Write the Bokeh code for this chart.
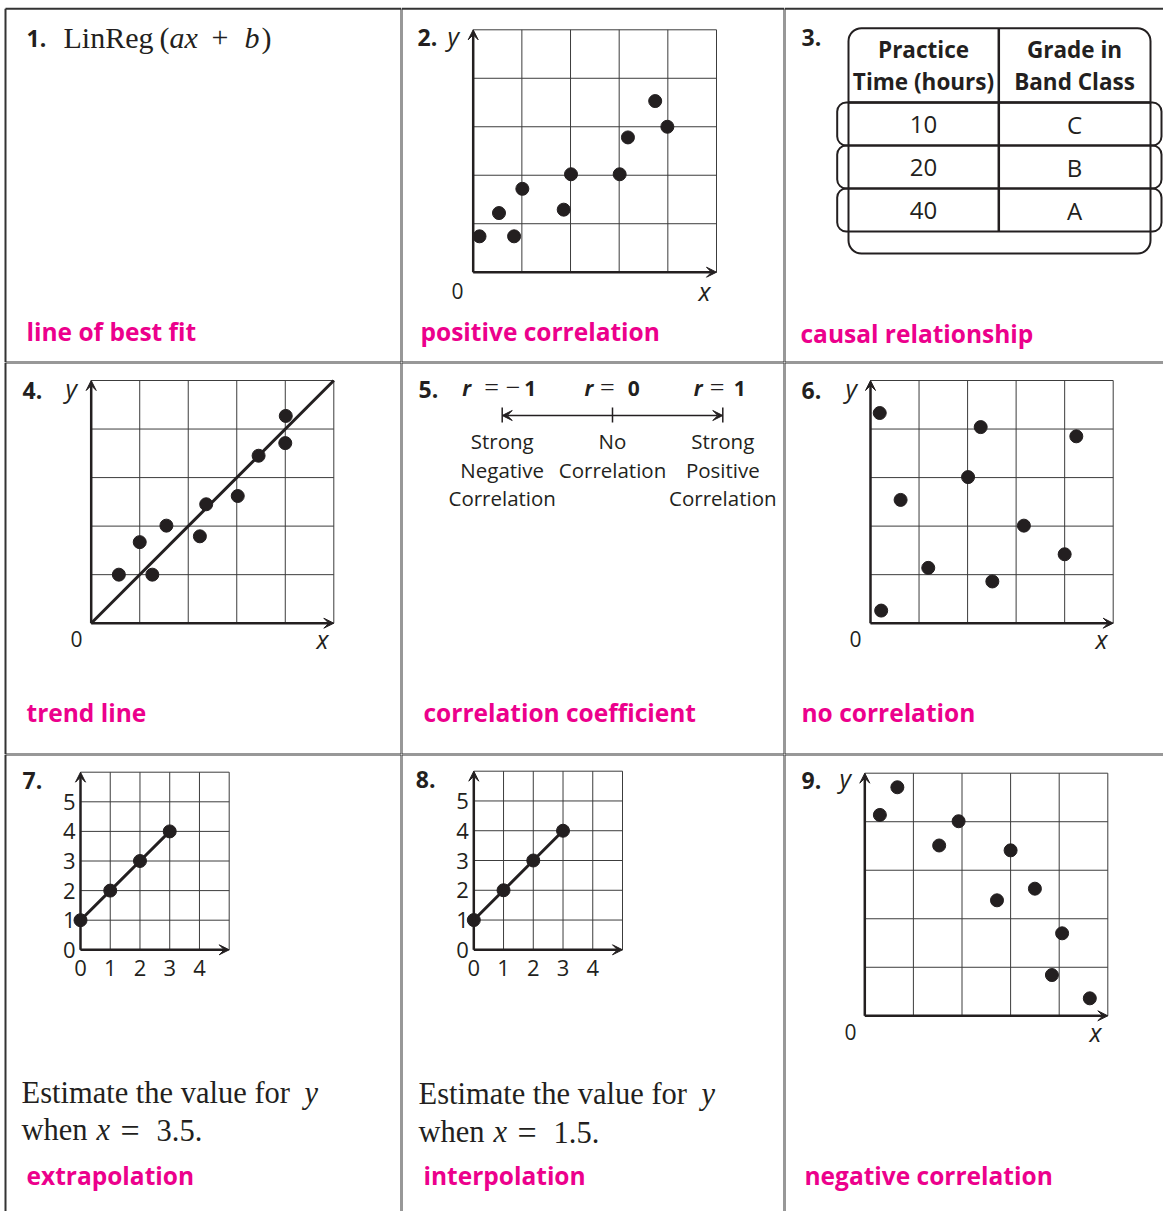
from bokeh.plotting import figure
from bokeh.models import Range1d, Label, Arrow, VeeHead
from bokeh.layouts import row, column
from bokeh.embed import file_html
from bokeh.resources import INLINE
from bokeh.core.properties import value

# ---------------- data ----------------
grid5 = [0, 1, 2, 3, 4, 5]
grid6 = [0, 1, 2, 3, 4, 5, 6]

pos_x = [0.13, 0.53, 0.84, 1.01, 1.86, 2.01, 3.01, 3.18, 3.74, 3.99]
pos_y = [0.74, 1.22, 0.74, 1.72, 1.29, 2.02, 2.02, 2.78, 3.53, 3.00]

trend_x = [0.57, 1.00, 1.26, 1.55, 2.24, 2.37, 3.02, 3.45, 4.01, 4.00]
trend_y = [1.00, 1.67, 1.00, 2.01, 1.79, 2.45, 2.62, 3.45, 4.27, 3.71]
trend_line_x = [0, 5]
trend_line_y = [0, 5]

none_x = [0.19, 0.62, 1.19, 2.27, 2.01, 2.51, 3.16, 4.24, 4.00, 0.22]
none_y = [4.33, 2.54, 1.14, 4.04, 3.01, 0.86, 2.01, 3.85, 1.42, 0.26]

neg_x = [0.67, 0.31, 1.53, 1.93, 3.00, 2.72, 3.50, 4.06, 3.85, 4.63]
neg_y = [4.71, 4.14, 3.51, 4.01, 3.41, 2.38, 2.62, 1.70, 0.84, 0.36]

line_x = [0, 1, 2, 3]
line_y = [1, 2, 3, 4]
tick_x_vals = [0, 1, 2, 3, 4]
tick_y_vals = [0, 1, 2, 3, 4, 5]

r_values = [-1, 0, 1]
r_numbers = ["1", "0", "1"]
r_negative = [True, False, False]
r_meaning = [["Strong", "Negative", "Correlation"],
             ["No", "Correlation"],
             ["Strong", "Positive", "Correlation"]]

table_header = [["Practice", "Time (hours)"], ["Grade in", "Band Class"]]
practice_hours = ["10", "20", "40"]
band_grade = ["C", "B", "A"]

terms = ["line of best fit", "positive correlation", "causal relationship",
         "trend line", "correlation coefficient", "no correlation",
         "extrapolation", "interpolation", "negative correlation"]

# ---------------- styles / layout ----------------
INK = "#231f20"
GRIDC = "#3c3c3c"
RULE = "#333333"
PINK = "#EC008C"
SANS = "Open Sans"
SERIF = "Liberation Serif"

COLS = [(0, 401), (401, 383), (784, 379)]
ROWS = [(0, 362), (362, 392), (754, 457)]
OUTER_LEFT, OUTER_TOP = 5, 8.3


def sh(size):
    # empirical correction of the rendered alphabetic baseline
    return 0.1 * size + 7


class Cell:
    def __init__(self, ci, ri, grid=None, xl=None, yl=None, xmap=None):
        self.ci, self.ri = ci, ri
        self.cl, self.cw = COLS[ci]
        self.ct, self.ch = ROWS[ri]
        self.sx, self.sy = 1.0, 1.0
        self.xs, self.ye = float(self.cl), float(-self.ct)
        if grid is not None:
            gl, gt, gr, gb = grid
            self.sx = (gr - gl) / (xl[1] - xl[0])
            self.sy = (gb - gt) / (yl[1] - yl[0])
            self.xs = xl[0] - (gl - self.cl) / self.sx
            self.ye = yl[1] + (gt - self.ct) / self.sy
        if xmap is not None:
            (p0, v0), (p1, v1) = xmap
            self.sx = (p1 - p0) / (v1 - v0)
            self.xs = v0 - (p0 - self.cl) / self.sx
        xr = (self.xs, self.xs + self.cw / self.sx)
        yr = (self.ye - self.ch / self.sy, self.ye)
        self.p = figure(width=self.cw, height=self.ch,
                        x_range=Range1d(*xr), y_range=Range1d(*yr),
                        output_backend="svg", toolbar_location=None,
                        x_axis_type=None, y_axis_type=None, min_border=0,
                        outline_line_color=None,
                        background_fill_color="white", border_fill_color="white")
        self.borders()

    def X(self, px):
        return self.xs + (px - self.cl) / self.sx

    def Y(self, py):
        return self.ye - (py - self.ct) / self.sy

    def borders(self):
        left = OUTER_LEFT if self.ci == 0 else self.cl
        top = OUTER_TOP if self.ri == 0 else self.ct
        right = self.cl + self.cw
        bottom = self.ct + self.ch
        segs = [(left, top, right + 2, top), (left, top, left, bottom + 2)]
        if self.ci < 2:
            segs.append((right, top, right, bottom + 2))
        if self.ri < 2:
            segs.append((left, bottom, right + 2, bottom))
        self.p.segment(x0=[self.X(s[0]) for s in segs], y0=[self.Y(s[1]) for s in segs],
                       x1=[self.X(s[2]) for s in segs], y1=[self.Y(s[3]) for s in segs],
                       line_color=RULE, line_width=2)

    def txt(self, s, px, py, size, font=SANS, style="normal", color=INK,
            align="left", baseline="alphabetic"):
        if baseline == "alphabetic":
            py = py - sh(size)
        self.p.add_layout(Label(x=px - self.cl, y=self.ct + self.ch - py,
                                x_units="screen", y_units="screen",
                                text=s, text_font=font, text_font_size=f"{size}px",
                                text_font_style=style, text_color=color,
                                text_align=align, text_baseline=baseline))


def mini_plot(p, xt, yt):
    x0, x1 = xt[0], xt[-1]
    y0, y1 = yt[0], yt[-1]
    p.segment(x0=xt, y0=[y0] * len(xt), x1=xt, y1=[y1] * len(xt),
              line_color=GRIDC, line_width=1)
    p.segment(x0=[x0] * len(yt), y0=yt, x1=[x1] * len(yt), y1=yt,
              line_color=GRIDC, line_width=1)
    for xe, ye in ((x1, y0), (x0, y1)):
        p.add_layout(Arrow(end=VeeHead(size=10, fill_color=INK, line_color=INK, line_width=1),
                           x_start=x0, y_start=y0, x_end=xe, y_end=ye,
                           line_width=2.5, line_color=INK))


NUM = 23
TERM = 24.5
SERIF_SIZE = 30.5

# ---------------- cell 1 ----------------
c1 = Cell(0, 0)
c1.txt("1.", 26, 47, NUM, style="bold")
for s, x, st in (("LinReg", 63, "normal"), ("(", 159, "normal"), ("ax", 169, "italic"),
                 ("+", 211, "normal"), ("b", 244, "italic"), (")", 261, "normal")):
    c1.txt(s, x, 47, 30, font=SERIF, style=st)
c1.txt(terms[0], 26, 340, TERM, style="bold", color=PINK)

# ---------------- cell 2 ----------------
c2 = Cell(1, 0, grid=(472.7, 29.3, 716, 271.7), xl=(0, 5), yl=(0, 5))
mini_plot(c2.p, grid5, grid5)
c2.p.scatter(pos_x, pos_y, size=13, color=INK)
c2.txt("2.", 417, 46, NUM, style="bold")
c2.txt("y", 447, 45, 25, style="italic")
c2.txt("0", 457, 300, 21, align="center")
c2.txt("x", 704, 300, 25, style="italic", align="center")
c2.txt(terms[1], 420, 340, TERM, style="bold", color=PINK)

# ---------------- cell 3 (table) ----------------
c3 = Cell(2, 0)
p3 = c3.p
c3.txt("3.", 801, 46, NUM, style="bold")
T_L, T_R, T_TOP, T_BOT = 848, 1150, 27.7, 253
P_L, P_R = 836.7, 1161
HEAD_B, ROW_H = 102, 43
COL_X = [923, 1074]
DIV_X = 998.3
n_rows = len(practice_hours)
row_tops = [HEAD_B + i * ROW_H for i in range(n_rows)]
p3.quad(left=[T_L], right=[T_R], top=[c3.Y(T_TOP)], bottom=[c3.Y(T_BOT)],
        fill_color=None, line_color=INK, line_width=2, border_radius=13)
p3.quad(left=[P_L] * n_rows, right=[P_R] * n_rows,
        top=[c3.Y(t) for t in row_tops], bottom=[c3.Y(t + ROW_H) for t in row_tops],
        fill_color=None, line_color=INK, line_width=2, border_radius=9)
p3.segment(x0=[T_L, DIV_X], y0=[c3.Y(HEAD_B), c3.Y(T_TOP)], x1=[T_R, DIV_X],
           y1=[c3.Y(HEAD_B), c3.Y(HEAD_B + n_rows * ROW_H)], line_color=INK, line_width=2.5)
for cx, lines in zip(COL_X, table_header):
    for j, s in enumerate(lines):
        c3.txt(s, cx, 58 + 32 * j, 22.5, style="bold", align="center")
for cx, col in zip(COL_X, (practice_hours, band_grade)):
    p3.text(x=[cx] * n_rows, y=[c3.Y(t + 31 - sh(24)) for t in row_tops], text=col,
            text_align="center", text_baseline="alphabetic",
            text_font=value(SANS), text_font_size="24px", text_color=INK)
c3.txt(terms[2], 800, 342, TERM, style="bold", color=PINK)

# ---------------- cell 4 ----------------
c4 = Cell(0, 1, grid=(90.7, 380, 333.3, 622.7), xl=(0, 5), yl=(0, 5))
mini_plot(c4.p, grid5, grid5)
c4.p.line(trend_line_x, trend_line_y, line_width=3, color=INK)
c4.p.scatter(trend_x, trend_y, size=13, color=INK)
c4.txt("4.", 22, 399, NUM, style="bold")
c4.txt("y", 65, 397, 25, style="italic")
c4.txt("0", 76, 648, 21, align="center")
c4.txt("x", 322, 648, 25, style="italic", align="center")
c4.txt(terms[3], 26, 721, TERM, style="bold", color=PINK)

# ---------------- cell 5 (number line) ----------------
NL_L, NL_R, NL_Y = 501.7, 722.3, 415
c5 = Cell(1, 1, xmap=((NL_L, r_values[0]), (NL_R, r_values[-1])))
p5 = c5.p
for xe in (r_values[0], r_values[-1]):
    p5.add_layout(Arrow(end=VeeHead(size=10, fill_color=INK, line_color=INK, line_width=1),
                        x_start=r_values[1], y_start=c5.Y(NL_Y), x_end=xe, y_end=c5.Y(NL_Y),
                        line_width=1.5, line_color=INK))
p5.segment(x0=r_values, y0=[c5.Y(NL_Y - 8)] * 3, x1=r_values, y1=[c5.Y(NL_Y + 7)] * 3,
           line_color=INK, line_width=1.5)
c5.txt("5.", 418, 398, NUM, style="bold")
r_offsets = [(-40, -18, 22), (-28, -12.5, 15.3), (-29, -13, 11)]


def r_label(r, s, off, font, size, style):
    p5.add_layout(Label(x=r, x_units="data", y=c5.ct + c5.ch - (397 - sh(size)),
                        y_units="screen", x_offset=off,
                        text=s, text_font=font, text_font_size=f"{size}px",
                        text_font_style=style, text_color=INK, text_align="left",
                        text_baseline="alphabetic"))


for r, num, neg, (o_r, o_eq, o_n) in zip(r_values, r_numbers, r_negative, r_offsets):
    r_label(r, "r", o_r, SANS, 21, "bold italic")
    r_label(r, "=", o_eq, SERIF, 26, "normal")
    if neg:
        r_label(r, "\u2212", o_eq + 21.5, SERIF, 26, "normal")
    r_label(r, num, o_n, SANS, 21, "bold")
for r, lines in zip(r_values, r_meaning):
    for j, s in enumerate(lines):
        p5.add_layout(Label(x=r, x_units="data",
                            y=c5.ct + c5.ch - (450 + 28.5 * j - sh(20.5)),
                            y_units="screen", text=s, text_font=SANS,
                            text_font_size="20.5px", text_color=INK,
                            text_align="center", text_baseline="alphabetic"))
c5.txt(terms[4], 423, 721, TERM, style="bold", color=PINK)

# ---------------- cell 6 ----------------
c6 = Cell(2, 1, grid=(870, 380, 1112.7, 622.7), xl=(0, 5), yl=(0, 5))
mini_plot(c6.p, grid5, grid5)
c6.p.scatter(none_x, none_y, size=13, color=INK)
c6.txt("6.", 801, 399, NUM, style="bold")
c6.txt("y", 845, 397, 25, style="italic")
c6.txt("0", 855, 648, 21, align="center")
c6.txt("x", 1101, 648, 25, style="italic", align="center")
c6.txt(terms[5], 801, 721, TERM, style="bold", color=PINK)


# ---------------- cells 7, 8 ----------------
def line_cell(ci, g, num, xval, term, ytxt, left):
    c = Cell(ci, 2, grid=g, xl=(0, 5), yl=(0, 6))
    f = c.p
    mini_plot(f, grid5, grid6)
    f.line(line_x, line_y, line_width=3, color=INK)
    f.scatter(line_x, line_y, size=13, color=INK)
    f.text(x=[0] * len(tick_y_vals), y=tick_y_vals, text=[str(v) for v in tick_y_vals],
           x_offset=-5, y_offset=0, text_align="right", text_baseline="middle",
           text_font=value(SANS), text_font_size="22px", text_color=INK)
    f.text(x=tick_x_vals, y=[0] * len(tick_x_vals), text=[str(v) for v in tick_x_vals],
           y_offset=27.5 - sh(22), text_align="center", text_baseline="alphabetic",
           text_font=value(SANS), text_font_size="22px", text_color=INK)
    c.txt(num, g[0] - 58, g[1] + 18, NUM, style="bold")
    c.txt("Estimate the value for", left, ytxt[0], SERIF_SIZE, font=SERIF)
    c.txt("y", left + 283, ytxt[0], SERIF_SIZE, font=SERIF, style="italic")
    c.txt("when", left, ytxt[1], SERIF_SIZE, font=SERIF)
    c.txt("x", left + 75, ytxt[1], SERIF_SIZE, font=SERIF, style="italic")
    c.txt("=", left + 99, ytxt[1], 34, font=SERIF)
    c.txt(xval, left + 135, ytxt[1], SERIF_SIZE, font=SERIF)
    c.txt(term, left + 5, 1184, TERM, style="bold", color=PINK)
    return c


c7 = line_cell(0, (80, 771.7, 228.7, 949.3), "7.", "3.5.", terms[6], (1103, 1140), 21)
c8 = line_cell(1, (473.3, 770.7, 622, 949.3), "8.", "1.5.", terms[7], (1104, 1142), 418)

# ---------------- cell 9 ----------------
c9 = Cell(2, 2, grid=(864.3, 772.7, 1107.3, 1015.3), xl=(0, 5), yl=(0, 5))
mini_plot(c9.p, grid5, grid5)
c9.p.scatter(neg_x, neg_y, size=13, color=INK)
c9.txt("9.", 801, 789, NUM, style="bold")
c9.txt("y", 839, 787, 25, style="italic")
c9.txt("0", 850, 1041, 21, align="center")
c9.txt("x", 1095, 1041, 25, style="italic", align="center")
c9.txt(terms[8], 804, 1184, TERM, style="bold", color=PINK)

layout = column(row(c1.p, c2.p, c3.p), row(c4.p, c5.p, c6.p), row(c7.p, c8.p, c9.p))
open("out.html", "w").write(file_html(layout, INLINE))
